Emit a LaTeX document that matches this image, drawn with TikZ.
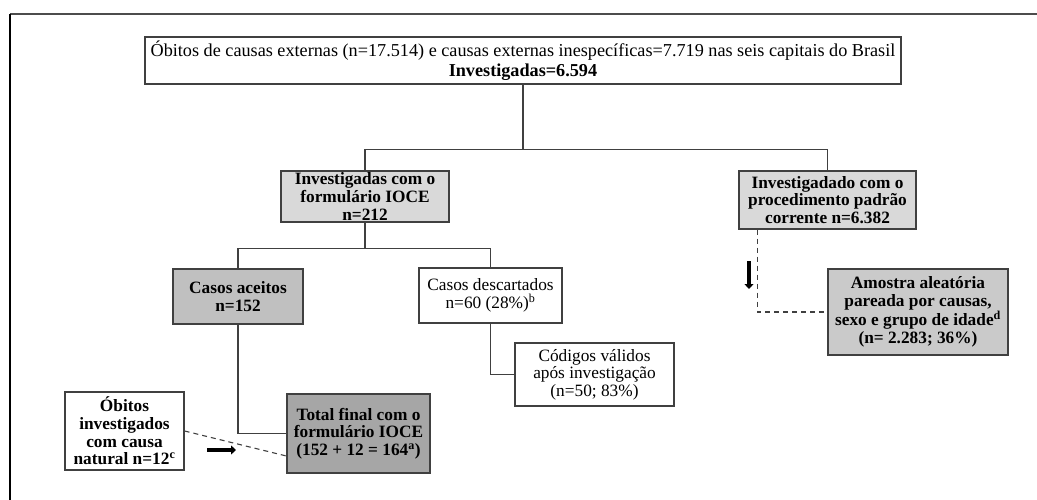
\documentclass[tikz,border=0pt]{standalone}
\usepackage{fontspec}
\setmainfont{Liberation Serif}
\usetikzlibrary{arrows.meta,calc}
\definecolor{lineclr}{HTML}{404040}
\definecolor{fillA}{HTML}{D9D9D9}
\definecolor{fillB}{HTML}{C0C0C0}
\definecolor{fillC}{HTML}{A6A6A6}
\tikzset{
  box/.style={draw=lineclr, line width=1.3pt, rectangle, align=center, inner sep=0pt,
    font=\fontsize{17.3}{17.6}\selectfont},
  boldbox/.style={box, font=\fontsize{17.3}{17.6}\selectfont\bfseries},
  link/.style={draw=lineclr, line width=1.3pt},
  dlink/.style={draw=lineclr, line width=1.1pt, dash pattern=on 5pt off 4pt},
  bigarrow/.style={black, line width=4.2pt, -{Triangle[length=5pt,width=9pt]}}
}
\begin{document}
\begin{tikzpicture}[x=1pt,y=-1pt]
\useasboundingbox (0,0) rectangle (1037,500);
% frame
\draw[gray!60!black, line width=2pt] (10,14) -- (1037,14);
\draw[black, line width=1.3pt] (10,14) -- (10,500);

% boxes
\node[box, minimum width=756pt, minimum height=47pt, font=\fontsize{18.2}{20}\selectfont] (top) at (523,60.5)
  {Óbitos de causas externas (n=17.514) e causas externas inespecíficas=7.719 nas seis capitais do Brasil\\\textbf{Investigadas=6.594}};
\node[boldbox, fill=fillA, minimum width=168pt, minimum height=51pt] (ioce) at (365,196.5)
  {Investigadas com o\\formulário IOCE\\n=212};
\node[boldbox, fill=fillA, minimum width=177pt, minimum height=58pt] (inv) at (827.5,200)
  {Investigadado com o\\procedimento padrão\\corrente n=6.382};
\node[boldbox, fill=fillB, minimum width=130pt, minimum height=55pt] (aceitos) at (238,296.5)
  {Casos aceitos\\n=152};
\node[box, fill=white, minimum width=143pt, minimum height=55pt] (descart) at (490.5,295.5)
  {Casos descartados\\n=60 (28\%)\textsuperscript{b}};
\node[box, fill=white, minimum width=159pt, minimum height=63pt] (codigos) at (594.5,374.5)
  {Códigos válidos\\após investigação\\(n=50; 83\%)};
\node[boldbox, fill=fillA!93!black, minimum width=180pt, minimum height=86pt] (amostra) at (918,312)
  {Amostra aleatória\\pareada por causas,\\sexo e grupo de idade\textsuperscript{d}\\(n= 2.283; 36\%)};
\node[boldbox, fill=fillC, minimum width=143pt, minimum height=79pt] (total) at (358.5,433.5)
  {Total final com o\\formulário IOCE\\(152 + 12 = 164\textsuperscript{a})};
\node[boldbox, fill=white, minimum width=119pt, minimum height=78pt] (obitos) at (124.5,431)
  {Óbitos\\investigados\\com causa\\natural n=12\textsuperscript{c}};

% solid connectors
\draw[link] (top.south) -- ++(0,65) -| (ioce.north);
\draw[link] (top.south) -- ++(0,65) -| (inv.north);
\draw[link] (ioce.south) -- ++(0,26) -| (aceitos.north);
\draw[link] (ioce.south) -- ++(0,26) -| (descart.north);
\draw[link] (descart.south) |- (codigos.west);
\draw[link] (aceitos.south) |- (total.west);

% dashed connectors
\draw[dlink] ([xshift=19pt]inv.south west) |- (amostra.west);
\draw[dlink] (obitos.east) -- ($(total.west)+(0,22.5)$);

% direction arrows
\coordinate (ra1) at (207,450);
\coordinate (ra2) at (236,450);
\coordinate (da1) at (749,261);
\coordinate (da2) at (749,289);
\draw[bigarrow] (ra1) -- (ra2);
\draw[bigarrow] (da1) -- (da2);
\end{tikzpicture}
\end{document}
